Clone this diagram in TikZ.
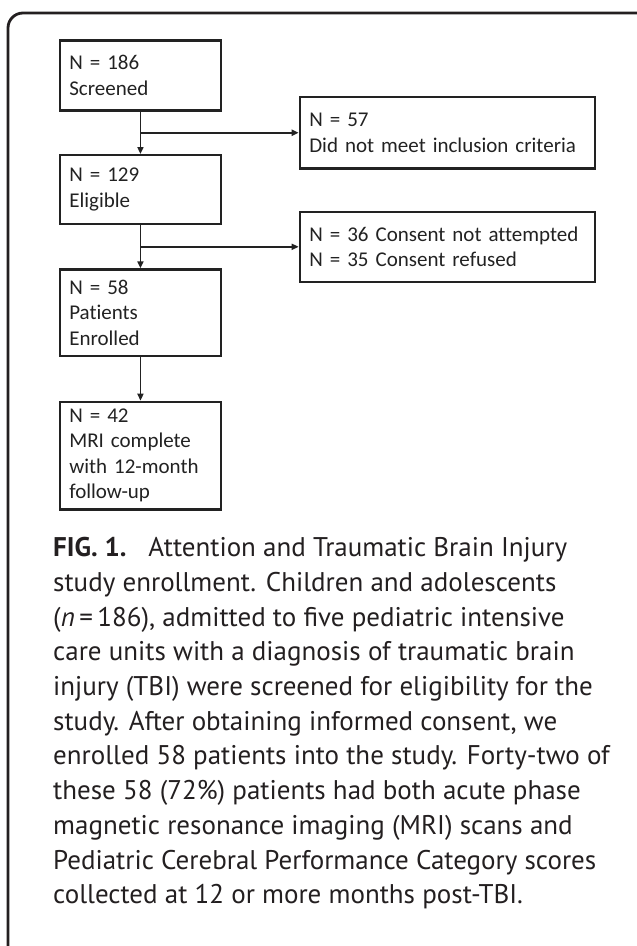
\documentclass[tikz,border=0pt]{standalone}
\usepackage{fontspec}
\usetikzlibrary{arrows.meta}
\newfontfamily\boxfont[Ligatures=NoCommon]{Carlito}
\newfontfamily\capfont{PT Sans}
\definecolor{ink}{HTML}{231F20}
\definecolor{boxink}{HTML}{222222}
\tikzset{
  stepbox/.style={draw=boxink, line width=2.2pt, anchor=north west, align=left,
    inner xsep=9.5pt, inner ysep=0pt, text=boxink,
    font=\boxfont\fontsize{21}{25.5}\selectfont},
  leftbox/.style={stepbox, text width=142.3pt},
  rightbox/.style={stepbox, text width=276.3pt},
  conn/.style={draw=boxink, line width=1.8pt, -{Triangle[length=7pt,width=6pt]}},
  capline/.style={anchor=base west, inner sep=0pt, text=ink,
    font=\capfont\fontsize{27}{34.7}\selectfont},
  frame/.style={draw=ink, line width=2.8pt, rounded corners=15pt}
}
\begin{document}
\begin{tikzpicture}[x=1pt,y=-1pt]
\useasboundingbox (0,0) rectangle (637,946);
\begin{scope}
\clip (0,0) rectangle (637,946);
\draw[frame] (8,13) rectangle (660,975);
\end{scope}
% flow boxes
\node[leftbox, minimum height=70pt] (b1) at (58.7,39.3) {N = 186\\Screened};
\node[leftbox, minimum height=68.7pt] (b2) at (58.7,154) {N = 129\\Eligible};
\node[leftbox, minimum height=86.7pt] (b3) at (58.7,268.3) {N = 58\\Patients\\Enrolled};
\node[leftbox, minimum height=107.6pt] (b4) at (58.7,400.7) {N = 42\\MRI complete\\with 12-month\\follow-up};
\node[rightbox, minimum height=71.3pt] (r1) at (298.7,96) {N = 57\\Did not meet inclusion criteria};
\node[rightbox, minimum height=70pt] (r2) at (298.7,210.7) {N = 36 Consent not attempted\\N = 35 Consent refused};
% connectors
\coordinate (j1) at (b1.south |- r1.west);
\coordinate (j2) at (b2.south |- r2.west);
\draw[conn] (b1.south) -- (b2.north);
\draw[conn] (j1) -- (r1.west);
\draw[conn] (b2.south) -- (b3.north);
\draw[conn] (j2) -- (r2.west);
\draw[conn] (b3.south) -- (b4.north);
% caption
\node[capline] (c1) at (53,556.7) {\textbf{FIG. 1.}\hspace{22pt}Attention and Traumatic Brain Injury};
\node[capline] (c2) at (53,591.4) {study enrollment. Children and adolescents};
\node[capline] (c3) at (53,626.1) {(\textit{n}\,=\,186), admitted to five pediatric intensive};
\node[capline] (c4) at (53,660.8) {care units with a diagnosis of traumatic brain};
\node[capline] (c5) at (53,695.5) {injury (TBI) were screened for eligibility for the};
\node[capline] (c6) at (53,730.2) {study. After obtaining informed consent, we};
\node[capline] (c7) at (53,764.9) {enrolled 58 patients into the study. Forty-two of};
\node[capline] (c8) at (53,799.6) {these 58 (72\%) patients had both acute phase};
\node[capline] (c9) at (53,834.3) {magnetic resonance imaging (MRI) scans and};
\node[capline] (c10) at (53,869.0) {Pediatric Cerebral Performance Category scores};
\node[capline] (c11) at (53,903.7) {collected at 12 or more months post-TBI.};
\end{tikzpicture}
\end{document}
